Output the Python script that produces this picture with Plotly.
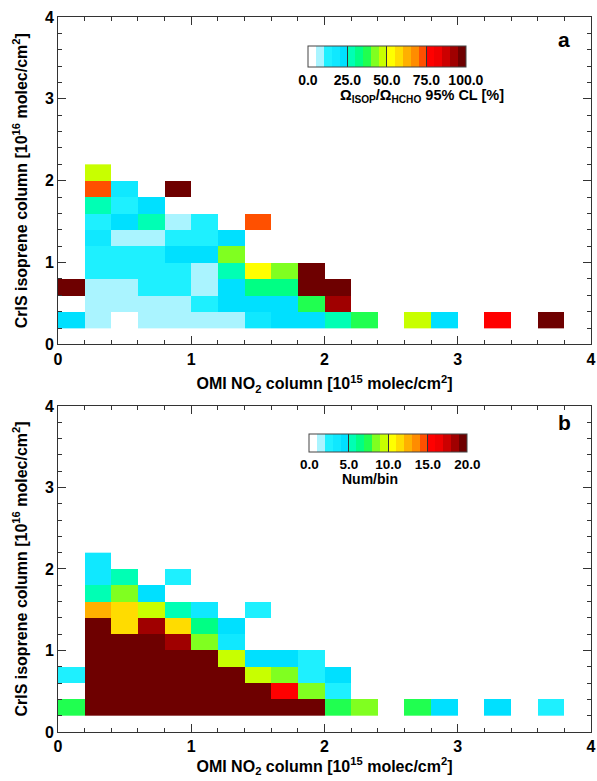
import plotly.graph_objects as go
from plotly.subplots import make_subplots

# ---------------- data ----------------
# x bin centres (OMI NO2, 1e15 molec/cm2), bin width 0.2
x_centers = [0.1, 0.3, 0.5, 0.7, 0.9, 1.1, 1.3, 1.5, 1.7, 1.9,
             2.1, 2.3, 2.5, 2.7, 2.9, 3.1, 3.3, 3.5, 3.7, 3.9]
# y bin centres (CrIS isoprene, 1e16 molec/cm2), bin width 0.2
y_centers = [0.3, 0.5, 0.7, 0.9, 1.1, 1.3, 1.5, 1.7, 1.9, 2.1]

N = None
# Panel a: Omega_ISOP / Omega_HCHO 95% CL [%]
ratio_y03 = [20, 7, 2, 7, 7, 7, 7, 17, 20, 20, 27, 37, N, 47, 20, N, 77, N, 97, N]
ratio_y05 = [N, 7, 7, 7, 7, 12, 20, 20, 20, 37, 92, N, N, N, N, N, N, N, N, N]
ratio_y07 = [97, 7, 7, 12, 12, 7, 20, 32, 32, 97, 97, N, N, N, N, N, N, N, N, N]
ratio_y09 = [N, 12, 12, 12, 12, 7, 29, 52, 42, 97, N, N, N, N, N, N, N, N, N, N]
ratio_y11 = [N, 12, 12, 12, 20, 20, 42, N, N, N, N, N, N, N, N, N, N, N, N, N]
ratio_y13 = [N, 17, 7, 7, 12, 12, 20, N, N, N, N, N, N, N, N, N, N, N, N, N]
ratio_y15 = [N, 12, 20, 27, 7, 12, N, 72, N, N, N, N, N, N, N, N, N, N, N, N]
ratio_y17 = [N, 27, 12, 20, N, N, N, N, N, N, N, N, N, N, N, N, N, N, N, N]
ratio_y19 = [N, 72, 17, N, 97, N, N, N, N, N, N, N, N, N, N, N, N, N, N, N]
ratio_y21 = [N, 47, N, N, N, N, N, N, N, N, N, N, N, N, N, N, N, N, N, N]

# Panel b: number of points per bin
num_y03 = [7, 100, 95, 85, 70, 55, 40, 30, 25, 21, 7, 8.5, N, 7, 4, N, 4, N, 2.5, N]
num_y05 = [N, 90, 80, 70, 55, 40, 30, 22, 15.5, 8.5, 2.5, N, N, N, N, N, N, N, N, N]
num_y07 = [2.5, 70, 60, 50, 40, 30, 25, 9.5, 8.5, 2.5, 4, N, N, N, N, N, N, N, N, N]
num_y09 = [N, 60, 50, 45, 30, 25, 9.5, 4, 4, 2.5, N, N, N, N, N, N, N, N, N, N]
num_y11 = [N, 40, 35, 30, 18.5, 8.5, 3, N, N, N, N, N, N, N, N, N, N, N, N, N]
num_y13 = [N, 30, 11.5, 18.5, 11.5, 6.5, 4, N, N, N, N, N, N, N, N, N, N, N, N, N]
num_y15 = [N, 12.5, 11.5, 9.5, 5.5, 3, N, 2.5, N, N, N, N, N, N, N, N, N, N, N, N]
num_y17 = [N, 5.5, 8.5, 4, N, N, N, N, N, N, N, N, N, N, N, N, N, N, N, N]
num_y19 = [N, 3, 5.5, N, 2.5, N, N, N, N, N, N, N, N, N, N, N, N, N, N, N]
num_y21 = [N, 3, N, N, N, N, N, N, N, N, N, N, N, N, N, N, N, N, N, N]

# discrete 20-level colour table
level_colors = ["#ffffff", "#aaf4ff", "#1ef0ff", "#10e8ff", "#00e0ff",
                "#00ffb4", "#00ff84", "#20ff50", "#80ff20", "#c8ff00",
                "#ffff00", "#ffdc00", "#ffb000", "#ff8c00", "#ff5000",
                "#ff0000", "#f00000", "#cc0000", "#a00000", "#6e0000"]

ratio_z = [ratio_y03, ratio_y05, ratio_y07, ratio_y09, ratio_y11,
           ratio_y13, ratio_y15, ratio_y17, ratio_y19, ratio_y21]
num_z = [num_y03, num_y05, num_y07, num_y09, num_y11,
         num_y13, num_y15, num_y17, num_y19, num_y21]

n = len(level_colors)
colorscale = []
for i, c in enumerate(level_colors):
    colorscale.append([i / n, c])
    colorscale.append([(i + 1) / n, c])

FONT = "Liberation Sans, Arial, Helvetica, sans-serif"

fig = make_subplots(rows=2, cols=1)

cb_common = dict(
    orientation="h", thicknessmode="pixels",
    len=158, lenmode="pixels", xanchor="center", yanchor="top",
    outlinecolor="#444", outlinewidth=1,
    ticks="inside", tickcolor="#333", tickwidth=1,
    tickformat=".1f", xpad=0, ypad=0,
)

fig.add_trace(go.Heatmap(
    x=x_centers, y=y_centers, z=ratio_z, zmin=0, zmax=100,
    colorscale=colorscale, hoverongaps=False,
    colorbar=dict(cb_common, x=0.617, y=0.9594, thickness=21, ticklen=21,
                  tickfont=dict(family=FONT, size=14, color="black", weight="bold"),
                  tick0=0, dtick=25),
), row=1, col=1)

fig.add_trace(go.Heatmap(
    x=x_centers, y=y_centers, z=num_z, zmin=0, zmax=20,
    colorscale=colorscale, hoverongaps=False,
    colorbar=dict(cb_common, x=0.620, y=0.4168, thickness=18, ticklen=18,
                  tickfont=dict(family=FONT, size=13.5, color="black", weight="bold"),
                  tick0=0, dtick=5),
), row=2, col=1)

axis_common = dict(
    range=[0, 4], tick0=0, dtick=1, ticks="inside", ticklen=8,
    tickwidth=1, tickcolor="#333",
    showline=True, linecolor="#333", linewidth=1, mirror="allticks",
    showgrid=False, zeroline=False, ticklabeloverflow="allow",
    minor=dict(dtick=0.2, ticks="inside", ticklen=4, tickcolor="#333"),
    tickfont=dict(family=FONT, size=16, color="black", weight="bold"),
)

xt = "OMI NO<sub>2</sub> column [10<sup>15</sup> molec/cm<sup>2</sup>]"
yt = "CrIS isoprene column [10<sup>16</sup> molec/cm<sup>2</sup>]"
tfont = dict(family=FONT, size=16, color="black", weight="bold")

fig.update_xaxes(axis_common, title=dict(text=xt, font=tfont, standoff=11), row=1, col=1)
fig.update_xaxes(axis_common, title=dict(text=xt, font=tfont, standoff=5), row=2, col=1)
for r in (1, 2):
    fig.update_yaxes(axis_common, title=dict(text=yt, font=tfont, standoff=13), row=r, col=1)

fig.update_yaxes(domain=[0.542, 1.0], row=1, col=1)
fig.update_yaxes(domain=[0.0, 0.456], row=2, col=1)

fig.add_annotation(text="<b>a</b>", x=3.80, y=3.72, xref="x", yref="y",
                   showarrow=False, font=dict(family=FONT, size=21, color="black"))
fig.add_annotation(text="<b>b</b>", x=3.80, y=3.80, xref="x2", yref="y2",
                   showarrow=False, font=dict(family=FONT, size=21, color="black"))
fig.add_annotation(text="Ω<sub>ISOP</sub>/Ω<sub>HCHO</sub> 95% CL [%]",
                   x=2.73, y=3.03, xref="x", yref="y", showarrow=False,
                   font=dict(family=FONT, size=14.5, color="black", weight="bold"))
fig.add_annotation(text="Num/bin", x=2.34, y=3.10, xref="x2", yref="y2",
                   showarrow=False,
                   font=dict(family=FONT, size=14, color="black", weight="bold"))

fig.update_layout(
    width=597, height=781,
    margin=dict(l=58, r=6, t=17, b=49, autoexpand=False),
    plot_bgcolor="white", paper_bgcolor="white",
    font=dict(family=FONT, color="black"),
    showlegend=False,
)

# remove the default 8 px page margin so the figure fills the window exactly
fig.write_html("out.html", config={"displayModeBar": False},
               post_script="document.body.style.margin='0';")
